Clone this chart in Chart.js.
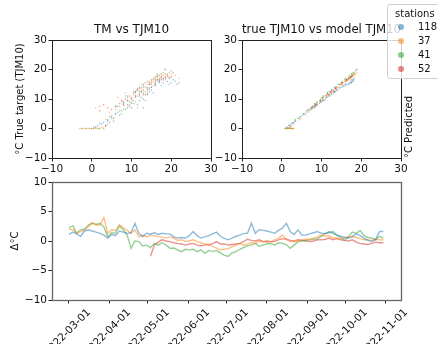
<!DOCTYPE html>
<html>
<head>
<meta charset="utf-8">
<script src="https://cdn.jsdelivr.net/npm/chart.js@4.4.1/dist/chart.umd.min.js"></script>
<style>
  body { margin: 0; background: #fff; font-family: "DejaVu Sans", sans-serif; }
  #wrap { position: relative; width: 438px; height: 344px; overflow: hidden; }
  canvas { position: absolute; left: 0; top: 0; }
  .legend {
    position: absolute; left: 387px; top: 4px; width: 60px; height: 73px;
    border: 1px solid #d0d0d0; border-radius: 3px; background: rgba(255,255,255,0.8);
    font-size: 10px; color: #111;
  }
  .legend .lt { position: absolute; left: 7px; top: 3px; }
  .legend .row { position: absolute; left: 30px; line-height: 12px; }
  .legend .dot { position: absolute; left: -20px; top: 3px; width: 6px; height: 6px; border-radius: 50%; }
  .ylab { position: absolute; font-size: 10px; color: #111; white-space: nowrap;
    transform: translate(-50%, -50%) rotate(-90deg); }
</style>
</head>
<body>
<div id="wrap">
  <canvas id="c1" width="438" height="344"></canvas>
  <canvas id="c2" width="438" height="344"></canvas>
  <canvas id="c3" width="438" height="344"></canvas>
  <div class="ylab" style="left:408px; top:127px;">°C Predicted</div>
  <div class="legend">
    <div class="lt">stations</div>
    <div class="row" style="top:16px"><span class="dot" style="background:rgba(31,119,180,0.55)"></span>118</div>
    <div class="row" style="top:30px"><span class="dot" style="background:rgba(255,127,14,0.55)"></span>37</div>
    <div class="row" style="top:44px"><span class="dot" style="background:rgba(44,160,44,0.55)"></span>41</div>
    <div class="row" style="top:58px"><span class="dot" style="background:rgba(214,39,40,0.55)"></span>52</div>
  </div>
</div>
<script>
const stations = ["118", "37", "41", "52"];

// scatter: air temp (TM), true TJM10, model TJM10
const tm118 = [0.5,1.5,2.5,3.0,1.0,4.0,2.0,5.0,6.0,7.5,8.0,9.5,10.0,11.0,12.0,12.5,13.0,11.5,14.0,13.5,15.0,16.0,15.5,17.0,18.0,19.0,20.0,21.0,22.0,17.5,16.5,14.5,10.5,9.0,8.5,13.0,6.5,4.5,18.5,12.0,
  3.5,5.5,7.0,8.0,9.0,10.0,11.0,12.0,13.0,14.0,15.0,16.0,17.0,18.0,19.5,20.5,21.5,6.0,11.5,14.5];
const obs118 = [0.5,1.0,1.5,2.0,0.3,2.5,1.8,3.5,5.0,6.0,8.0,7.5,9.0,10.5,11.0,12.5,10.0,13.0,13.5,9.5,14.0,15.0,12.0,15.5,15.5,16.0,15.5,16.0,15.5,14.5,16.5,15.0,8.5,9.5,6.5,7.0,5.5,4.0,17.0,14.0,
  1.0,2.5,4.5,9.0,11.0,7.0,12.5,9.5,14.5,11.5,13.0,14.5,16.0,16.5,15.0,16.5,15.0,7.5,8.0,12.5];
const mod118 = [1.2,2.0,2.3,2.8,1.5,3.5,2.6,4.3,5.8,7.0,8.6,8.5,10.0,11.4,12.0,13.3,11.0,13.8,14.5,10.7,15.2,16.2,13.0,17.0,17.3,17.8,17.5,18.0,17.6,16.0,17.5,16.0,9.5,10.3,7.5,8.2,6.2,4.8,18.2,14.8,
  1.8,3.3,5.3,9.7,11.8,7.8,13.2,10.4,15.4,12.5,14.0,15.6,17.4,17.9,16.7,18.0,16.8,8.2,8.8,13.5];

const tm37 = [-3.0,-2.0,-1.0,0.0,1.0,2.0,3.0,-1.5,0.5,2.5,4.0,3.5,5.0,6.0,7.0,2.0,8.0,9.0,10.0,10.5,11.0,12.0,12.5,13.0,14.0,14.5,15.0,16.0,16.5,17.0,17.5,18.0,19.0,20.0,8.5,11.5,6.5,13.5,15.5,21.0,
  -2.5,-0.5,1.5,3.5,4.5,5.5,7.5,9.5,10.5,11.5,12.5,13.5,14.5,15.5,16.5,17.5,18.5,19.5,22.0,1.0];
const obs37 = [0.0,0.0,0.0,0.0,0.0,0.1,0.2,0.0,0.0,0.5,1.5,3.0,4.5,6.5,7.5,7.5,8.0,9.5,10.0,11.5,9.0,12.0,13.5,14.0,15.0,14.0,16.0,17.0,17.5,16.5,17.5,18.0,17.5,18.5,12.0,7.0,10.5,12.5,15.5,18.0,
  0.0,0.0,0.0,0.8,5.5,3.5,9.0,8.0,12.5,11.0,15.0,11.5,16.0,14.5,16.0,18.5,16.5,19.0,17.0,7.0];
const mod37 = [1.0,1.5,2.0,2.5,2.8,2.2,1.8,1.2,3.0,2.0,3.0,4.5,6.0,7.5,8.5,8.0,9.0,10.3,10.5,12.0,9.6,12.5,13.8,14.3,15.0,14.0,16.2,17.0,17.3,16.8,17.8,18.0,17.6,18.6,12.5,7.5,11.0,12.8,15.7,18.2,
  1.3,2.2,2.6,2.4,6.8,4.8,9.8,8.7,13.0,11.4,15.2,12.0,16.1,14.6,16.2,18.4,16.7,18.9,17.2,7.8];

const tm41 = [-2.5,-0.5,0.5,1.5,3.0,1.0,4.5,6.0,7.0,8.0,9.0,10.0,11.0,12.0,13.0,13.5,14.0,15.0,16.0,16.5,17.0,17.5,18.0,19.0,20.0,18.5,15.5,14.5,12.5,9.5,5.0,8.5,11.5,16.0,17.0,13.0,10.5,19.5,
  -1.5,2.0,0.0,3.5,5.5,6.5,7.5,9.0,10.0,11.0,12.5,14.0,15.0,16.5,17.5,18.5,20.5,13.5,8.0,4.0];
const obs41 = [0.0,0.0,0.0,0.0,0.0,0.5,2.0,5.0,6.0,8.5,7.0,10.0,11.0,12.5,12.0,14.0,13.0,15.0,16.5,17.5,18.0,18.5,19.0,18.5,19.5,20.0,17.0,15.5,10.5,9.0,4.0,11.0,13.0,15.5,16.5,15.0,12.0,17.5,
  0.0,0.0,0.0,1.0,3.5,7.5,5.0,10.5,8.5,12.0,14.0,16.0,14.0,18.5,17.0,20.0,19.0,11.5,6.5,3.0];
const mod41 = [0.8,1.5,2.0,2.5,1.2,2.2,3.0,5.5,6.2,8.3,7.3,9.8,10.5,12.0,11.5,13.3,12.5,14.5,15.8,16.8,17.0,17.5,18.0,17.8,18.5,18.8,16.0,15.0,10.2,8.8,4.5,10.5,12.6,15.0,16.2,14.2,11.6,17.3,
  1.0,2.8,1.8,2.0,4.0,7.6,5.5,10.1,8.5,11.5,13.4,15.2,13.6,17.6,16.4,18.9,18.2,11.2,6.6,3.4];

const tm52 = [2.0,4.0,6.0,7.0,8.0,9.0,10.0,11.0,12.0,12.5,13.0,14.0,14.5,15.0,16.0,16.5,17.0,17.5,18.0,18.5,19.0,15.5,16.5,14.0,11.5,9.5,13.5,17.0,19.5,16.0,
  3.0,5.0,7.5,8.5,10.5,11.0,12.0,13.0,14.5,15.0,16.0,17.5,18.5,20.0,9.0];
const obs52 = [6.0,7.0,7.5,8.5,9.0,9.5,10.5,11.0,11.5,12.5,13.0,14.0,15.0,15.5,16.0,16.5,17.0,17.5,17.0,17.5,18.0,16.5,18.0,12.0,13.5,11.0,15.5,16.0,17.0,17.5,
  8.0,6.5,9.5,10.0,9.5,12.5,13.5,11.5,13.5,16.5,15.0,16.5,18.5,17.5,8.0];
const mod52 = [6.5,7.4,7.8,8.8,9.0,9.6,10.4,11.2,11.6,12.3,13.0,13.8,14.8,15.4,16.0,16.3,16.8,17.4,17.2,17.3,17.8,16.4,17.6,12.3,13.4,11.2,15.2,16.2,17.0,17.4,
  8.3,6.9,9.7,10.2,9.8,12.4,13.5,11.8,13.6,16.2,15.1,16.6,18.2,17.4,8.4];

// residuals (model - true), one value every 3 days from 2022-03-01
const startDate = "2022-03-01";
const dayStep = 3;
const delta118 = [1.1,1.5,1.2,0.8,1.7,1.9,1.7,1.5,1.3,1.0,
  0.5,1.1,0.9,1.7,1.5,1.3,1.4,3.0,1.3,0.7,
  1.3,1.2,1.4,1.1,1.3,1.2,1.2,0.7,0.5,0.6,
  0.5,0.9,1.6,0.9,0.5,0.7,0.9,1.2,1.5,0.8,
  0.45,0.2,0.5,0.8,1.0,1.3,1.3,3.0,1.3,1.9,
  1.8,1.7,1.5,1.3,1.8,2.2,3.0,1.6,1.1,1.9,
  1.0,1.0,1.2,1.4,1.6,1.3,1.3,1.4,1.6,1.0,
  0.8,0.6,0.5,0.7,1.2,0.9,0.5,0.1,-0.1,0.3,
  1.6,1.6];
const delta37 = [2.0,1.9,1.4,1.6,1.9,2.4,3.1,2.7,2.7,4.0,
  1.3,1.9,1.8,2.7,2.2,1.8,1.3,1.9,0.7,1.0,
  0.7,1.0,0.9,0.7,0.7,0.5,0.7,0.5,0.1,0.2,
  -0.1,0.0,0.2,-0.1,-0.3,-0.5,-0.7,-0.9,-1.2,-1.5,
  -1.4,-1.3,-1.0,-0.7,-0.4,-0.7,-0.5,-0.3,-0.4,0.0,
  -0.1,-0.2,-0.1,0.2,0.5,1.0,0.3,-0.1,-0.1,0.0,
  0.2,0.3,0.3,0.5,0.7,1.0,0.8,0.9,0.5,0.5,
  0.3,0.6,0.7,0.8,0.6,0.4,0.2,0.2,0.1,0.3,
  0.2,0.2];
const delta41 = [2.2,2.6,1.3,1.9,2.0,2.7,3.0,2.8,3.0,2.4,
  0.7,1.4,1.3,2.6,1.9,1.0,-1.25,0.0,-0.1,-0.85,
  -0.7,-1.1,-0.4,-0.7,-0.3,-0.7,-1.25,-1.2,-1.5,-1.8,
  -1.4,-1.5,-1.4,-1.8,-1.5,-2.1,-1.6,-1.8,-1.6,-2.0,
  -2.4,-2.6,-2.0,-1.8,-1.4,-1.1,-0.8,-0.7,-0.4,-0.9,
  -0.7,-0.5,-0.4,-0.7,-0.3,-0.4,-0.6,-1.25,-0.7,-0.1,
  0.0,0.1,0.2,0.3,0.4,0.8,1.2,1.6,1.3,1.0,
  0.6,0.1,0.7,1.5,1.3,1.8,0.9,0.6,0.5,0.2,
  0.8,0.5];
const delta52 = [null,null,null,null,null,null,null,null,null,null,
  null,null,null,null,null,null,null,null,null,null,
  null,-2.6,-0.7,-0.2,0.2,0.0,-0.1,-0.3,-0.4,-0.5,
  -0.7,-0.5,-0.4,-0.7,-0.8,-0.7,-0.6,-0.5,-0.1,-0.5,
  -0.5,-0.7,-0.6,-0.5,-0.4,-0.1,0.3,0.1,0.0,0.2,
  -0.1,0.0,-0.1,-0.1,0.2,0.4,0.3,0.1,0.0,0.2,
  0.1,0.0,-0.1,0.0,0.2,0.2,0.3,0.5,0.2,0.4,
  0.2,0.1,0.0,0.2,-0.2,-0.4,-0.5,-0.6,-0.4,-0.2,
  -0.3,-0.3];

const monthLabels = ["2022-03-01","2022-04-01","2022-05-01","2022-06-01","2022-07-01",
  "2022-08-01","2022-09-01","2022-10-01","2022-11-01"];
const scatterTicks = [-10, 0, 10, 20, 30];
const deltaTicks = [-10, -5, 0, 5, 10];

const colors = ["31,119,180", "255,127,14", "44,160,44", "214,39,40"];
const FONT = "'DejaVu Sans', sans-serif";
Chart.defaults.font.family = FONT;
Chart.defaults.color = "#111";

const num = v => (v < 0 ? "\u2212" + Math.abs(v) : String(v));
const dayOf = s => (Date.parse(s) - Date.parse(startDate)) / 86400000;
const monthDays = monthLabels.map(dayOf);

const frame = {
  id: "frame",
  afterDatasetsDraw(chart, args, opts) {
    const { ctx, chartArea: a } = chart;
    ctx.save();
    ctx.strokeStyle = opts.color;
    ctx.lineWidth = opts.width;
    const l = Math.round(a.left) + 0.5, t = Math.round(a.top) + 0.5;
    const r = Math.round(a.right) + 0.5, b = Math.round(a.bottom) + 0.5;
    ctx.strokeRect(l, t, r - l, b - t);
    ctx.restore();
  }
};

function axis(min, max, ticks, size, extra) {
  return Object.assign({
    type: "linear", min, max,
    afterBuildTicks: s => { s.ticks = ticks.map(v => ({ value: v })); },
    ticks: { autoSkip: false, padding: 1.5, font: { size: 10.5 }, color: "#111", callback: num },
    grid: { drawOnChartArea: false, tickLength: 3.5, color: "#222" },
    border: { display: false }
  }, extra, { afterFit: s => { if (s.isHorizontal()) s.height = size; else s.width = size; } });
}

function scatterChart(id, title, pad, yw, ytitle, pick) {
  const series = [
    [tm118, obs118, mod118], [tm37, obs37, mod37],
    [tm41, obs41, mod41], [tm52, obs52, mod52]
  ];
  return new Chart(document.getElementById(id), {
    type: "scatter",
    data: {
      datasets: series.map((s, k) => ({
        label: stations[k],
        data: s[0].map((_, i) => pick(s, i)),
        backgroundColor: `rgba(${colors[k]},0.45)`,
        borderWidth: 0,
        pointRadius: 0.8
      }))
    },
    options: {
      responsive: false, animation: false, devicePixelRatio: 1,
      layout: { padding: pad },
      plugins: {
        legend: { display: false }, tooltip: { enabled: false },
        title: { display: true, text: title, fullSize: false, color: "#111",
          font: { size: 12, weight: "normal" }, padding: { top: 22.8, bottom: 2.8 } },
        frame: { color: "#222", width: 1 }
      },
      scales: {
        x: axis(-10, 30, scatterTicks, 20),
        y: axis(-10, 30, scatterTicks, yw, {
          title: { display: !!ytitle, text: ytitle, font: { size: 10 }, color: "#111", padding: { top: 14, bottom: 0 } }
        })
      }
    },
    plugins: [frame]
  });
}

scatterChart("c1", "TM vs TJM10", { left: 0, right: 227, top: 0, bottom: 166 }, 52,
  "°C True target (TJM10)", (s, i) => ({ x: s[0][i], y: s[1][i] }));
scatterChart("c2", "true TJM10 vs model TJM10", { left: 200, right: 37, top: 0, bottom: 166 }, 42,
  "", (s, i) => ({ x: s[2][i], y: s[1][i] }));

const deltas = [delta118, delta37, delta41, delta52];
new Chart(document.getElementById("c3"), {
  type: "line",
  data: {
    datasets: deltas.map((d, k) => ({
      label: stations[k],
      data: d.map((v, i) => ({ x: i * dayStep, y: v })),
      borderColor: `rgba(${colors[k]},0.5)`,
      borderWidth: 1.4,
      pointRadius: 0,
      tension: 0,
      spanGaps: false
    }))
  },
  options: {
    responsive: false, animation: false, devicePixelRatio: 1,
    layout: { padding: { left: 0, right: 37, top: 182, bottom: 0 } },
    plugins: {
      legend: { display: false }, tooltip: { enabled: false },
      frame: { color: "#666", width: 1.3 }
    },
    scales: {
      x: axis(-13.1, 256.6, monthDays, 44, {
        ticks: { autoSkip: false, padding: 3, font: { size: 10.5 }, color: "#111",
          minRotation: 45, maxRotation: 45, labelOffset: 20,
          callback: v => monthLabels[monthDays.indexOf(v)] }
      }),
      y: axis(-10, 10, deltaTicks, 52, {
        title: { display: true, text: "Δ°C", font: { size: 10 }, color: "#111", padding: { top: 9.5, bottom: 0 } }
      })
    }
  },
  plugins: [frame]
});
</script>
</body>
</html>
